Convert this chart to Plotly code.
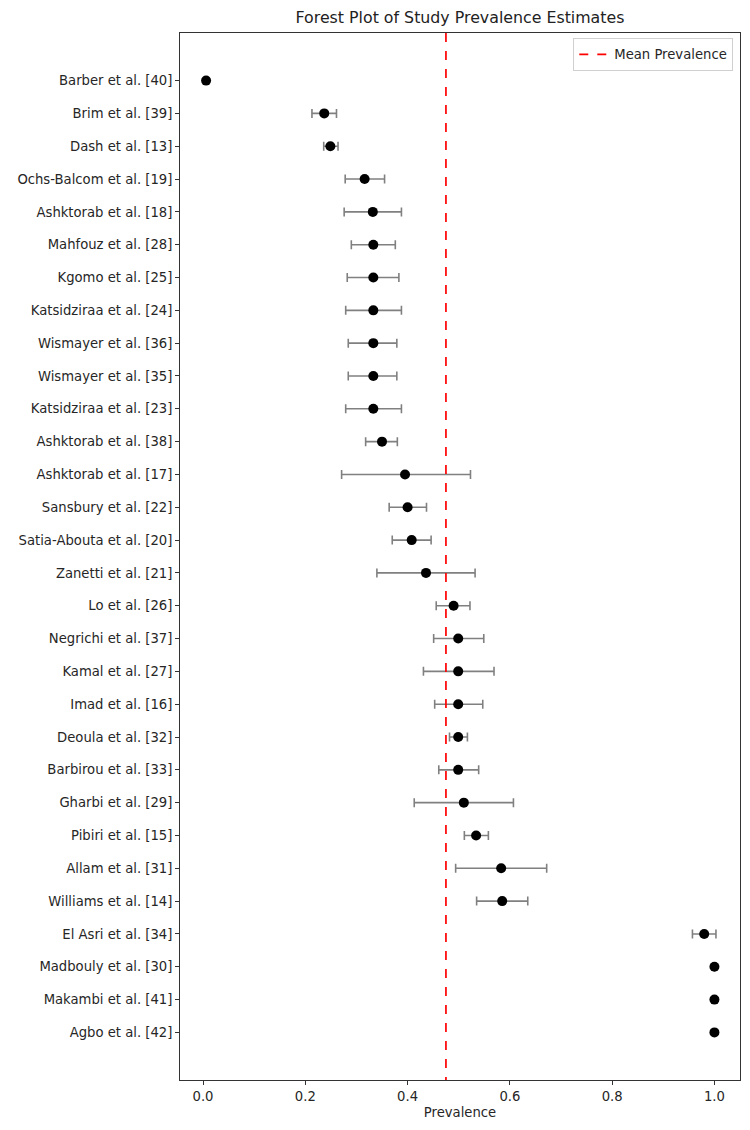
import plotly.graph_objects as go

studies = ["Barber et al. [40]", "Brim et al. [39]", "Dash et al. [13]", "Ochs-Balcom et al. [19]",
           "Ashktorab et al. [18]", "Mahfouz et al. [28]", "Kgomo et al. [25]", "Katsidziraa et al. [24]",
           "Wismayer et al. [36]", "Wismayer et al. [35]", "Katsidziraa et al. [23]", "Ashktorab et al. [38]",
           "Ashktorab et al. [17]", "Sansbury et al. [22]", "Satia-Abouta et al. [20]", "Zanetti et al. [21]",
           "Lo et al. [26]", "Negrichi et al. [37]", "Kamal et al. [27]", "Imad et al. [16]",
           "Deoula et al. [32]", "Barbirou et al. [33]", "Gharbi et al. [29]", "Pibiri et al. [15]",
           "Allam et al. [31]", "Williams et al. [14]", "El Asri et al. [34]", "Madbouly et al. [30]",
           "Makambi et al. [41]", "Agbo et al. [42]"]
prevalence = [0.006, 0.237, 0.249, 0.316, 0.332, 0.333, 0.333, 0.333, 0.333, 0.333, 0.333, 0.350,
              0.395, 0.400, 0.408, 0.436, 0.490, 0.499, 0.499, 0.499, 0.499, 0.499, 0.510, 0.534,
              0.583, 0.585, 0.980, 1.000, 1.000, 1.000]
ci_low = [0.006, 0.213, 0.236, 0.278, 0.276, 0.290, 0.282, 0.279, 0.284, 0.284, 0.279, 0.318,
          0.271, 0.364, 0.370, 0.340, 0.456, 0.451, 0.431, 0.453, 0.482, 0.461, 0.413, 0.511,
          0.494, 0.535, 0.957, 1.000, 1.000, 1.000]
ci_high = [0.006, 0.261, 0.264, 0.355, 0.388, 0.376, 0.383, 0.388, 0.379, 0.379, 0.388, 0.380,
           0.523, 0.437, 0.446, 0.532, 0.522, 0.549, 0.569, 0.547, 0.517, 0.539, 0.607, 0.558,
           0.672, 0.635, 1.003, 1.000, 1.000, 1.000]
mean_prevalence = 0.475
x_ticks = [0.0, 0.2, 0.4, 0.6, 0.8, 1.0]

ypos = list(range(len(studies)))
err_plus = [h - p for h, p in zip(ci_high, prevalence)]
err_minus = [p - l for p, l in zip(prevalence, ci_low)]

fig = go.Figure()
fig.add_trace(go.Scatter(
    x=prevalence, y=ypos, mode="markers",
    marker=dict(color="black", size=10),
    error_x=dict(type="data", symmetric=False, array=err_plus, arrayminus=err_minus,
                 color="gray", thickness=1.6, width=4.5),
    showlegend=False,
))
ymin, ymax = -1.45, len(studies) - 1 + 1.45
fig.add_trace(go.Scatter(
    x=[mean_prevalence, mean_prevalence], y=[ymin, ymax], mode="lines",
    line=dict(color="red", dash="dash", width=1.7),
    name="Mean Prevalence", showlegend=True,
))

W, H = 742, 1122
fig.update_layout(
    width=W, height=H,
    margin=dict(l=167, r=9, t=25, b=50),
    paper_bgcolor="white", plot_bgcolor="white",
    font=dict(family="DejaVu Sans", size=13.2, color="#262626"),
    title=dict(text="Forest Plot of Study Prevalence Estimates", x=0.5, xref="paper",
               y=1 - 9 / H, yanchor="middle", font=dict(size=15.8, color="#222222")),
    legend=dict(x=0.988, y=0.995, xanchor="right", yanchor="top",
                bordercolor="#d0d0d0", borderwidth=1, bgcolor="rgba(255,255,255,0.9)",
                font=dict(size=13.2)),
)
fig.update_xaxes(
    range=[-0.045, 1.05], tickvals=x_ticks, ticktext=[f"{v:.1f}" for v in x_ticks],
    showgrid=False, zeroline=False, showline=True, linecolor="#333333", linewidth=1, mirror=True,
    ticks="outside", ticklen=4, tickcolor="#333333",
    title=dict(text="Prevalence", font=dict(size=13.2), standoff=4),
)
fig.update_yaxes(
    range=[ymax, ymin], tickvals=ypos, ticktext=studies,
    showgrid=False, zeroline=False, showline=True, linecolor="#333333", linewidth=1, mirror=True,
    ticks="outside", ticklen=4, tickcolor="#333333",
)
fig.write_html("out.html")
